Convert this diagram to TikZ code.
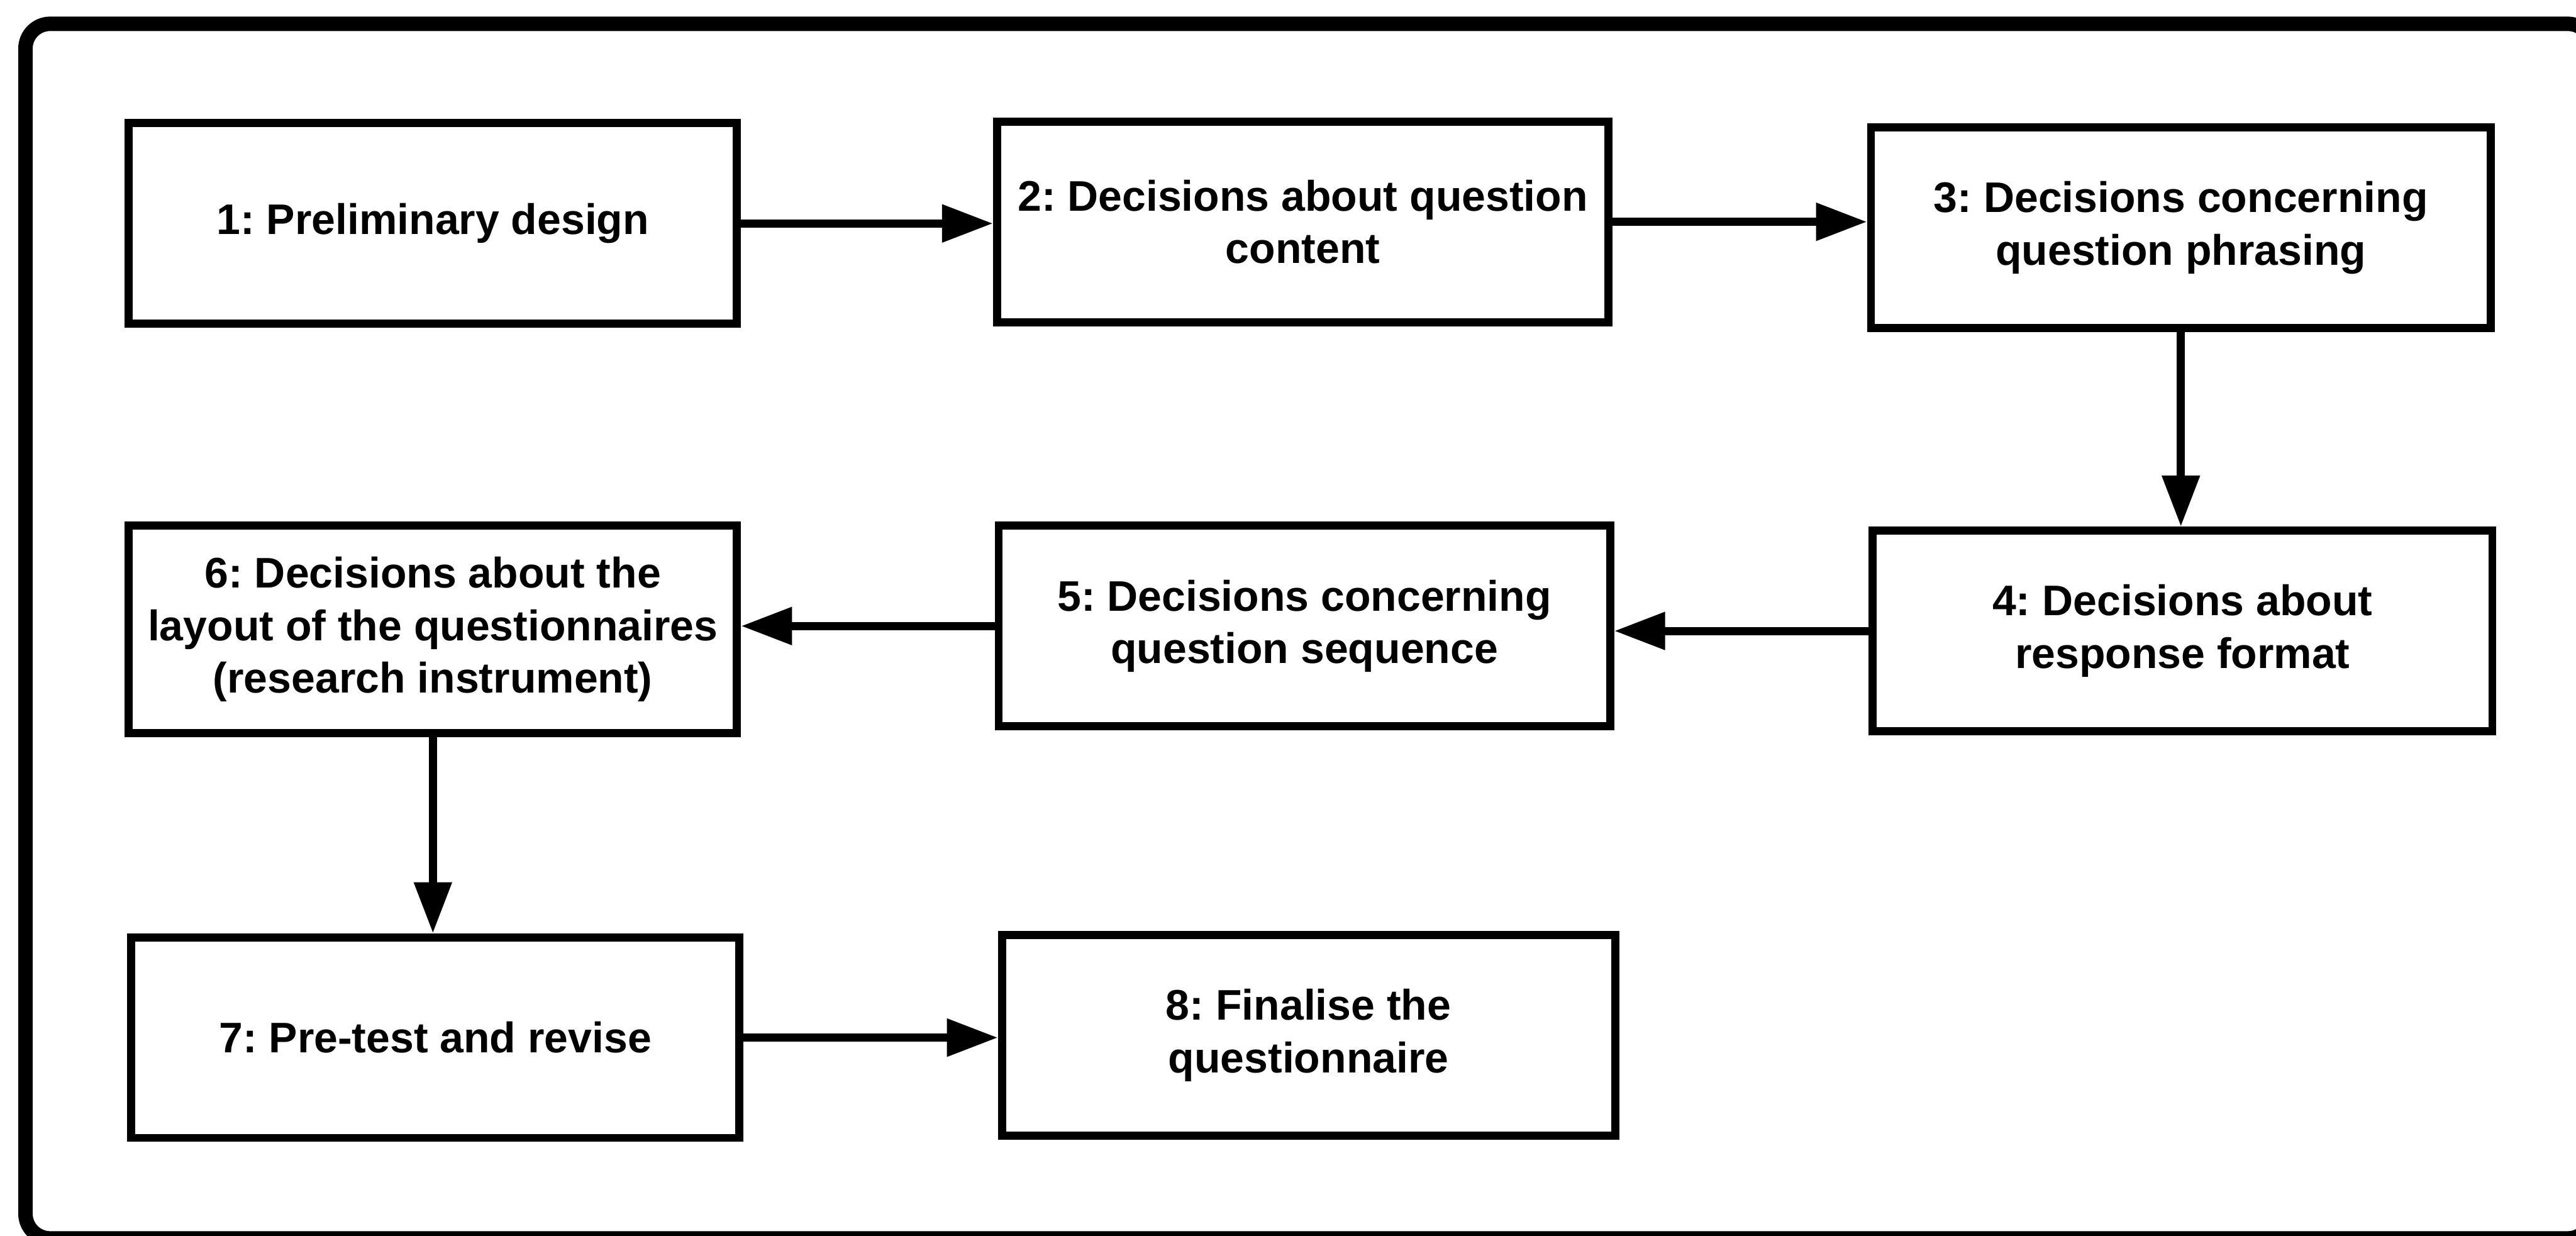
\documentclass[tikz,border=0pt]{standalone}
\usepackage{fontspec}
\setmainfont{Liberation Sans}
\usetikzlibrary{arrows.meta}
\frenchspacing

\tikzset{
  stepbox/.style={draw, line width=1.4pt, inner sep=0pt, align=center,
    minimum width=3.70cm, minimum height=1.22cm,
    font=\bfseries\fontsize{7.4}{9.1}\selectfont},
  flow/.style={line width=1.4pt, -{Triangle[length=0.31cm, width=0.22cm]}},
  frame/.style={line width=2.5pt, rounded corners=0.15cm}
}

\begin{document}
\begin{tikzpicture}[x=0.01cm, y=-0.01cm]
  \useasboundingbox (0,0) rectangle (1568,752);
  \clip (0,0) rectangle (1568,752);

  % outer frame
  \draw[frame] (15.5,14.5) rectangle (1578,753.7);

  % first row
  \node[stepbox] (s1) at (263.5,136) {1: Preliminary design};
  \node[stepbox, minimum width=3.72cm] (s2) at (793,135) {2: Decisions about question\\content};
  \node[stepbox, minimum width=3.77cm] (s3) at (1327.5,138.5) {3: Decisions concerning\\question phrasing};

  % second row
  \node[stepbox, minimum width=3.77cm] (s4) at (1328.5,384) {4: Decisions about\\response format};
  \node[stepbox, minimum width=3.72cm] (s5) at (794,381) {5: Decisions concerning\\question sequence};
  \node[stepbox, minimum height=1.26cm] (s6) at (263.5,383) {6: Decisions about the\\layout of the questionnaires\\(research instrument)};

  % third row
  \node[stepbox] (s7) at (265,631.5) {7: Pre-test and revise};
  \node[stepbox, minimum width=3.73cm] (s8) at (796.5,630) {8: Finalise the\\questionnaire};

  % connectors
  \draw[flow] (s1.east) -- (s1.east -| s2.west);
  \draw[flow] (s2.east) -- (s2.east -| s3.west);
  \draw[flow] (s3.south) -- (s3.south |- s4.north);
  \draw[flow] (s4.west) -- (s4.west -| s5.east);
  \draw[flow] (s5.west) -- (s5.west -| s6.east);
  \draw[flow] (s6.south) -- (s6.south |- s7.north);
  \draw[flow] (s7.east) -- (s7.east -| s8.west);
\end{tikzpicture}
\end{document}
